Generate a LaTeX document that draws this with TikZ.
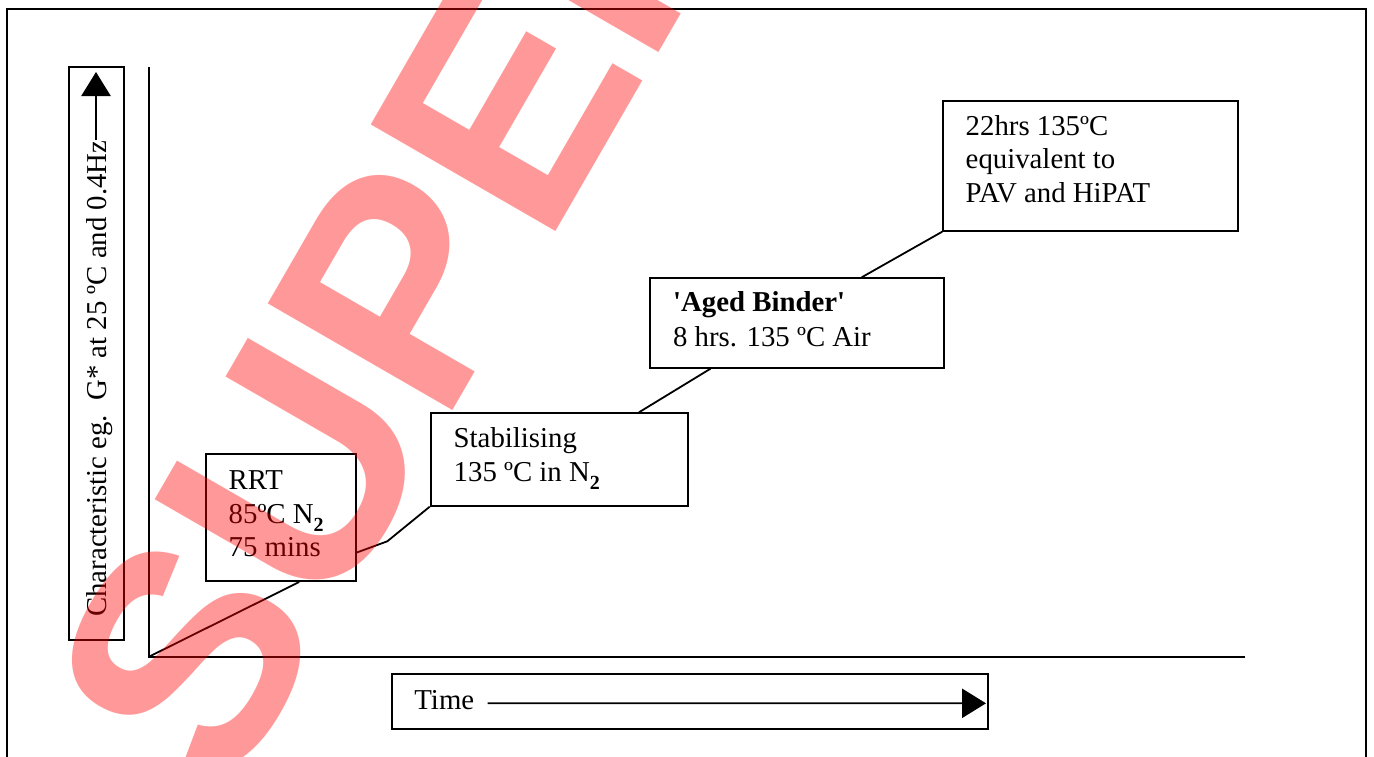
\documentclass[tikz,border=0pt]{standalone}
\usepackage{fontspec}
\setmainfont{Liberation Serif}
\newfontfamily\tnr{Liberation Serif}
\newfontfamily\wmfont{Liberation Sans}
\usetikzlibrary{arrows.meta,fit,calc}
\newcommand{\subtwo}{\raisebox{-4pt}{\fontsize{10}{10}\selectfont\bfseries 2}}
\begin{document}
\begin{tikzpicture}[x=0.5pt,y=-0.5pt,
  frame/.style={draw=black, line width=1pt},
  axis/.style={draw=black, line width=1pt},
  box/.style={draw=black, line width=1pt, inner sep=0pt},
  txt/.style={anchor=base west, inner sep=0pt, font=\tnr\fontsize{14.4}{16.5}\selectfont},
  link/.style={draw=black, line width=0.9pt},
  bigtip/.style={-{Triangle[length=12pt,width=14.6pt]}},
  wm/.style={anchor=base west, inner sep=0pt, rotate=60, text=red, text opacity=0.4,
             font=\wmfont\bfseries\fontsize{155}{155}\selectfont}]
\useasboundingbox (0,0) rectangle (1374,756);
\fill[white] (0,0) rectangle (1374,756);
% outer frame
\draw[frame] (7,9) rectangle (1366,775);
% axes
\coordinate (O) at (149,656.7);
\coordinate (ytop) at (149,67);
\coordinate (xend) at (1245,656.7);
\draw[axis] (ytop) -- (O) -- (xend);
% y label box
\node[box, fit={(69,67.3) (124,640)}] (ybox) {};
\node[txt, rotate=90] (ylab) at (106,617) {Characteristic eg.\ \ G* at 25 ºC and 0.4Hz};
\coordinate (ytip) at (96,72);
\draw[link, bigtip] ($(ylab.base east)+(-10,0)$) -- (ytip);
% time box
\node[box, fit={(391.7,674) (988.4,729.3)}] (tbox) {};
\node[txt] (tlab) at (414,709) {Time};
\coordinate (ttip) at (986,703.3);
\draw[link, bigtip] ($(tlab.base east)+(13,-5.7)$) -- (ttip);
% RRT
\node[box, fit={(206,454.3) (355.7,581)}] (rrt) {};
\node[txt] (rrt1) at (228.3,489.5) {RRT};
\node[txt] (rrt2) at (228.3,523) {85ºC N\subtwo};
\node[txt] (rrt3) at (228.3,556) {75 mins};
% Stabilising
\node[box, fit={(430.7,413.3) (687.7,505.7)}] (stab) {};
\node[txt] (stab1) at (453.3,447.7) {Stabilising};
\node[txt] (stab2) at (453.3,481) {135 ºC in N\subtwo};
% Aged binder
\node[box, fit={(649.8,278.3) (944.3,367.7)}] (aged) {};
\node[txt] (aged1) at (672.7,311.7) {\bfseries 'Aged Binder'};
\node[txt] (aged2) at (672.7,346.5) {8 hrs. 135 ºC Air};
% 22 hrs
\node[box, fit={(943.2,101) (1237.7,230.7)}] (h22) {};
\node[txt] (h221) at (965.3,135.7) {22hrs 135ºC};
\node[txt] (h222) at (965.3,168.7) {equivalent to};
\node[txt] (h223) at (965.3,202) {PAV and HiPAT};
% connectors
\coordinate (bend) at (387.3,541.3);
\draw[link] (O) -- ($(rrt.south west)!0.621!(rrt.south east)$);
\draw[link] ($(rrt.north east)!0.771!(rrt.south east)$) -- (bend) -- (stab.south west);
\draw[link] ($(stab.north west)!0.808!(stab.north east)$) -- ($(aged.south west)!0.208!(aged.south east)$);
\draw[link] ($(aged.north west)!0.718!(aged.north east)$) -- (h22.south west);
% watermark
\begin{scope}
\clip (0,0) rectangle (1374,756);
\node[wm] (wmark) at (226.7,801.6) {SUPERSEDED};
\end{scope}
\end{tikzpicture}
\end{document}
